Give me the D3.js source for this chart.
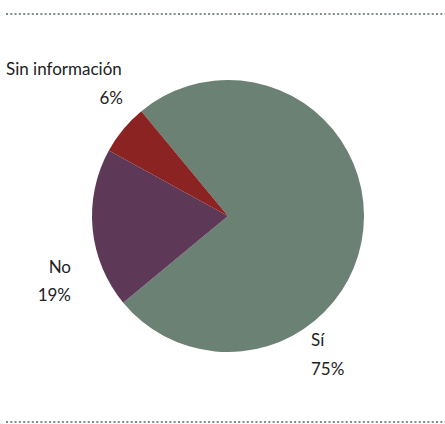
<!DOCTYPE html>
<html><head><meta charset="utf-8">
<script src="https://cdn.jsdelivr.net/npm/d3@7"></script>
<style>body{margin:0;background:#fff}svg{display:block}</style>
</head><body><div id="chart"></div>
<script>
const categories = ["Sí", "No", "Sin información"];
const values = [75, 19, 6];
const labels = ["75%", "19%", "6%"];
const colors = ["#6a8174", "#5e3857", "#8b2323"];

const W = 445, H = 424;
const svg = d3.select("#chart").append("svg").attr("width", W).attr("height", H);

// dotted rules
[14, 422].forEach(y => {
  svg.append("line").attr("x1", 6).attr("x2", W).attr("y1", y).attr("y2", y)
    .attr("stroke", "#7a9088").attr("stroke-width", 2).attr("stroke-dasharray", "2,2.3");
});

const cx = 228, cy = 216, r = 136;
const start = -39.6 * Math.PI / 180;
const pie = d3.pie().sort(null).startAngle(start).endAngle(start + 2 * Math.PI);
const arc = d3.arc().innerRadius(0).outerRadius(r);
const g = svg.append("g").attr("transform", `translate(${cx},${cy})`);
g.selectAll("path").data(pie(values)).join("path")
  .attr("d", arc).attr("fill", (d, i) => colors[i]);

const font = "Lato, 'Open Sans', sans-serif";
const labelPos = [
  {name: [311, 346, "start"], pct: [311, 375, "start"]},
  {name: [71, 273, "end"], pct: [71, 301, "end"]},
  {name: [6, 75, "start"], pct: [123, 104, "end"]}
];
categories.forEach((c, i) => {
  const p = labelPos[i];
  svg.append("text").attr("x", p.name[0]).attr("y", p.name[1]).attr("text-anchor", p.name[2])
    .attr("font-family", font).attr("font-size", 17).attr("fill", "#222").text(c);
  svg.append("text").attr("x", p.pct[0]).attr("y", p.pct[1]).attr("text-anchor", p.pct[2])
    .attr("font-family", font).attr("font-size", 17).attr("fill", "#222").text(labels[i]);
});
</script></body></html>
